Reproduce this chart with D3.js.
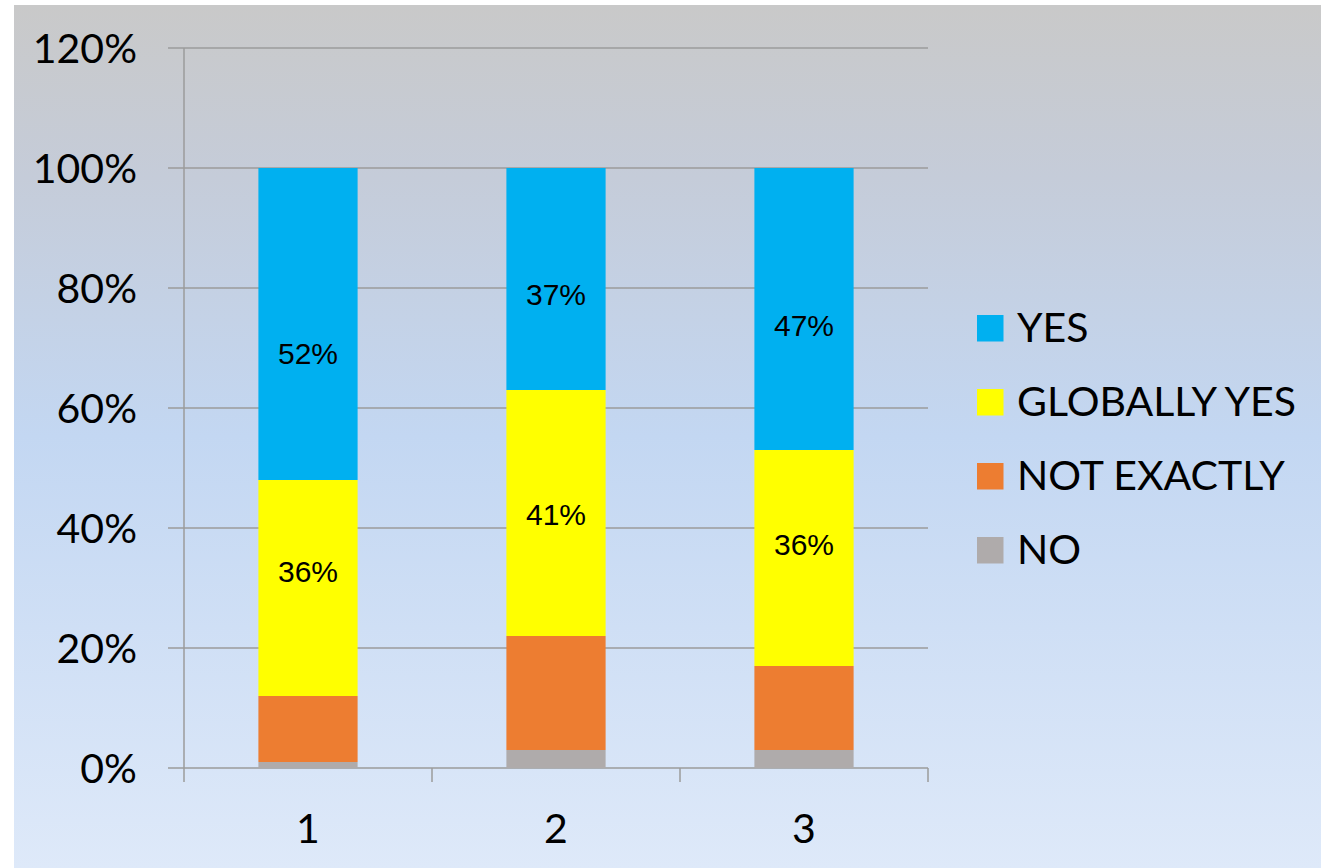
<!DOCTYPE html>
<html>
<head>
<meta charset="utf-8">
<script src="https://cdn.jsdelivr.net/npm/d3@7"></script>
<style>
  html, body { margin: 0; padding: 0; background: #ffffff; }
  svg { display: block; }
</style>
</head>
<body>
<svg id="chart" width="1321" height="868"></svg>
<script>
// ---- data ----
const categories = ["1", "2", "3"];
const seriesKeys = ["NO", "NOT EXACTLY", "GLOBALLY YES", "YES"];
const noValues = [1, 3, 3];
const notExactlyValues = [11, 19, 14];
const globallyYesValues = [36, 41, 36];
const yesValues = [52, 37, 47];
const yTickValues = [0, 20, 40, 60, 80, 100, 120];
const yTickLabels = ["0%", "20%", "40%", "60%", "80%", "100%", "120%"];
// where each visible data label sits (value units)
const yesLabelAt = [69.2, 79, 73.8];
const globallyYesLabelAt = [32.8, 42.3, 37.3];
const legendOrder = ["YES", "GLOBALLY YES", "NOT EXACTLY", "NO"];
const colors = { "YES": "#00b0f0", "GLOBALLY YES": "#ffff00", "NOT EXACTLY": "#ed7d31", "NO": "#afabab" };

// ---- build table ----
const table = categories.map((c, i) => ({
  cat: c,
  "NO": noValues[i],
  "NOT EXACTLY": notExactlyValues[i],
  "GLOBALLY YES": globallyYesValues[i],
  "YES": yesValues[i]
}));
const stacked = d3.stack().keys(seriesKeys)(table);

const svg = d3.select("#chart");

// background gradient
const defs = svg.append("defs");
const grad = defs.append("linearGradient").attr("id", "bg").attr("x1", 0).attr("y1", 0).attr("x2", 0).attr("y2", 1);
grad.append("stop").attr("offset", "0%").attr("stop-color", "#c9c9c9");
grad.append("stop").attr("offset", "20%").attr("stop-color", "#c5ccd9");
grad.append("stop").attr("offset", "50%").attr("stop-color", "#c3d7f2");
grad.append("stop").attr("offset", "100%").attr("stop-color", "#deE9f9");
svg.append("rect").attr("x", 14).attr("y", 5).attr("width", 1307).attr("height", 863).attr("fill", "url(#bg)");

// scales
const x = d3.scaleBand().domain(categories).range([184, 928]).paddingInner(0.6).paddingOuter(0.3);
const y = d3.scaleLinear().domain([0, 120]).range([768, 48]);

const gridColor = "#9b9b9b";

// horizontal gridlines + left tick marks
svg.append("g").selectAll("line").data(yTickValues).join("line")
  .attr("x1", 168).attr("x2", 928)
  .attr("y1", d => y(d)).attr("y2", d => y(d))
  .attr("stroke", gridColor).attr("stroke-width", 1.5);

// y axis line
svg.append("line").attr("x1", 184).attr("x2", 184).attr("y1", y(120)).attr("y2", y(0) + 14)
  .attr("stroke", gridColor).attr("stroke-width", 1.5);

// category tick marks
const step = x.step();
const boundaries = categories.map((c, i) => x.range()[0] + step * (i + 1));
svg.append("g").selectAll("line").data(boundaries).join("line")
  .attr("x1", d => d).attr("x2", d => d)
  .attr("y1", y(0)).attr("y2", y(0) + 14)
  .attr("stroke", gridColor).attr("stroke-width", 1.5);

// y tick labels
svg.append("g").selectAll("text").data(yTickValues).join("text")
  .attr("x", 137).attr("y", d => y(d))
  .attr("dy", "0.36em")
  .attr("text-anchor", "end")
  .attr("font-family", "Lato, 'Open Sans', sans-serif")
  .attr("font-size", 41)
  .attr("fill", "#000")
  .text((d, i) => yTickLabels[i]);

// x labels
svg.append("g").selectAll("text").data(categories).join("text")
  .attr("x", d => x(d) + x.bandwidth() / 2)
  .attr("y", 843)
  .attr("text-anchor", "middle")
  .attr("font-family", "Lato, 'Open Sans', sans-serif")
  .attr("font-size", 41)
  .attr("fill", "#000")
  .text(d => d);

// bars
svg.append("g").selectAll("g").data(stacked).join("g")
  .attr("fill", s => colors[s.key])
  .selectAll("rect").data(s => s).join("rect")
  .attr("x", d => x(d.data.cat))
  .attr("width", x.bandwidth())
  .attr("y", d => y(d[1]))
  .attr("height", d => y(d[0]) - y(d[1]));

// data labels
function addLabels(values, at) {
  svg.append("g").selectAll("text").data(categories).join("text")
    .attr("x", d => x(d) + x.bandwidth() / 2)
    .attr("y", (d, i) => y(at[i]))
    .attr("dy", "0.36em")
    .attr("text-anchor", "middle")
    .attr("font-family", "'Liberation Sans', Arial, sans-serif")
    .attr("font-size", 30)
    .attr("fill", "#000")
    .text((d, i) => values[i] + "%");
}
addLabels(yesValues, yesLabelAt);
addLabels(globallyYesValues, globallyYesLabelAt);

// legend
const legend = svg.append("g").attr("transform", "translate(977,315)");
const rows = legend.selectAll("g").data(legendOrder).join("g")
  .attr("transform", (d, i) => `translate(0,${i * 74})`);
rows.append("rect").attr("width", 26.5).attr("height", 26.5).attr("fill", d => colors[d]);
rows.append("text").attr("x", 40).attr("y", 27)
  .attr("font-family", "Lato, 'Open Sans', sans-serif")
  .attr("font-size", 41)
  .attr("fill", "#000")
  .text(d => d);
</script>
</body>
</html>
